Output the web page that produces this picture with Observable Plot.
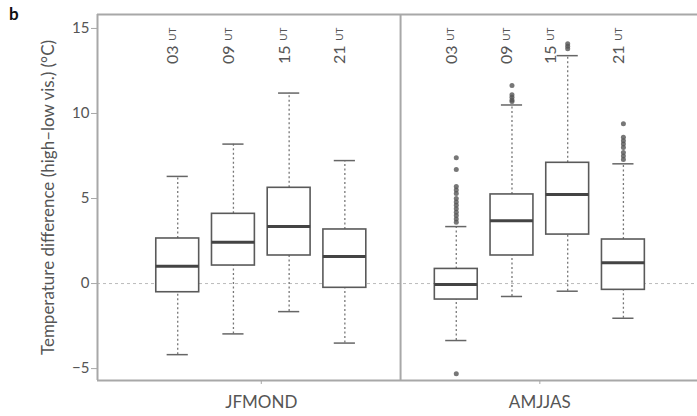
<!DOCTYPE html>
<html>
<head>
<meta charset="utf-8">
<script src="https://cdn.jsdelivr.net/npm/d3@7"></script>
<script src="https://cdn.jsdelivr.net/npm/@observablehq/plot@0.6"></script>
<style>
  body { margin: 0; background: #fff; }
  #wrap { position: relative; width: 697px; height: 416px; font-family: Lato, "Open Sans", sans-serif; }
  #panel { position: absolute; left: 9px; top: 3px; font-weight: bold; font-size: 17px; color: #111; }
</style>
</head>
<body>
<div id="wrap"><div id="panel">b</div></div>
<script>
const seasons = ["JFMOND", "AMJJAS"];
const hours = ["03", "09", "15", "21"];
// one entry per box: JFMOND 03,09,15,21 then AMJJAS 03,09,15,21
const whiskerLow = [-4.18, -2.96, -1.65, -3.5, -3.35, -0.76, -0.45, -2.04];
const q1 = [-0.51, 1.06, 1.65, -0.25, -0.94, 1.65, 2.88, -0.37];
const median = [1.02, 2.43, 3.35, 1.59, -0.06, 3.7, 5.24, 1.22];
const q3 = [2.65, 4.1, 5.63, 3.18, 0.86, 5.24, 7.1, 2.59];
const whiskerHigh = [6.3, 8.2, 11.2, 7.23, 3.35, 10.5, 13.4, 7.04];
const outlierBox = [4,4,4,4,4,4,4,4,4,4,4,4,4,4, 5,5,5,5,5, 6,6,6, 7,7,7,7,7,7,7,7];
const outlierValue = [7.4, 6.7, 5.7, 5.5, 5.3, 5.0, 4.8, 4.6, 4.4, 4.2, 4.0, 3.8, 3.6, -5.3,
  11.65, 11.1, 10.95, 10.8, 10.7,
  14.1, 13.95, 13.8,
  9.4, 8.6, 8.4, 8.2, 8.0, 7.7, 7.5, 7.3];
const yTicks = [-5, 0, 5, 10, 15];
const yTitle = "Temperature difference (high–low vis.) (°C)";

const boxes = [];
seasons.forEach((s, si) => hours.forEach((h, hi) => {
  const i = si * 4 + hi;
  boxes.push({season: s, hour: h, pos: si * 5 + hi + 1,
    lo: whiskerLow[i], q1: q1[i], med: median[i], q3: q3[i], hi: whiskerHigh[i]});
}));
const outliers = outlierBox.map((b, i) => ({pos: boxes[b].pos, v: outlierValue[i]}));
const seasonCenters = seasons.map((s, si) => ({season: s, pos: si * 5 + 2.5}));
const dividers = [5];
// the label above the crowded AMJJAS 15 UT box is nudged further left
const shifted = d => d.season === "AMJJAS" && d.hour === "15";
const normalLabels = boxes.filter(d => !shifted(d));
const shiftedLabels = boxes.filter(shifted);

const xDom = [-0.44, 10.33];
const yDom = [-5.7, 15.82];
const hw = 0.385, cw = 0.19;
const frameC = "#a8a8a8", boxC = "#5a5a5a", textC = "#555";

function hourLabels(data, dx) {
  return [
    Plot.text(data, {x: "pos", text: "hour", frameAnchor: "top", rotate: -90, textAnchor: "end", dy: 31, dx, fontSize: 16, fill: textC}),
    Plot.text(data, {x: "pos", text: d => "UT", frameAnchor: "top", rotate: -90, textAnchor: "end", dy: 13, dx: dx + 2, fontSize: 10, fill: textC})
  ];
}

const chart = Plot.plot({
  width: 697, height: 416,
  marginLeft: 97, marginRight: 0, marginTop: 14, marginBottom: 36,
  style: {fontFamily: "Lato, 'Open Sans', sans-serif", color: textC, background: "#fff"},
  x: {domain: xDom},
  y: {domain: yDom},
  marks: [
    Plot.ruleY([0], {stroke: "#bbb", strokeDasharray: "3,3", strokeWidth: 1}),
    // whiskers
    Plot.ruleX(boxes, {x: "pos", y1: "q3", y2: "hi", stroke: "#777", strokeDasharray: "2,2.5", strokeWidth: 1.3}),
    Plot.ruleX(boxes, {x: "pos", y1: "lo", y2: "q1", stroke: "#777", strokeDasharray: "2,2.5", strokeWidth: 1.3}),
    Plot.ruleY(boxes, {y: "hi", x1: d => d.pos - cw, x2: d => d.pos + cw, stroke: "#666", strokeWidth: 1.5}),
    Plot.ruleY(boxes, {y: "lo", x1: d => d.pos - cw, x2: d => d.pos + cw, stroke: "#666", strokeWidth: 1.5}),
    // boxes
    Plot.rect(boxes, {x1: d => d.pos - hw, x2: d => d.pos + hw, y1: "q1", y2: "q3", fill: "white", stroke: boxC, strokeWidth: 1.6}),
    Plot.ruleY(boxes, {y: "med", x1: d => d.pos - hw, x2: d => d.pos + hw, stroke: "#444", strokeWidth: 3}),
    Plot.dot(outliers, {x: "pos", y: "v", r: 2.5, fill: "#555", fillOpacity: 0.8, stroke: "none"}),
    // hour labels
    ...hourLabels(normalLabels, -11),
    ...hourLabels(shiftedLabels, -23),
    // frame
    Plot.ruleX([xDom[0]], {stroke: frameC, strokeWidth: 2}),
    Plot.ruleX(dividers, {stroke: frameC, strokeWidth: 2}),
    Plot.ruleY([yDom[1]], {stroke: frameC, strokeWidth: 2}),
    Plot.ruleY([yDom[0]], {stroke: frameC, strokeWidth: 2}),
    Plot.axisY({ticks: yTicks, tickSize: 6, tickPadding: 2, fontSize: 15, stroke: frameC, label: null,
      tickFormat: d => d < 0 ? "−" + Math.abs(d) : String(d)}),
    Plot.text([yTitle], {text: d => d, frameAnchor: "left", textAnchor: "middle", rotate: -90, dx: -49, fontSize: 17, fill: textC}),
    Plot.axisX({ticks: seasonCenters.map(d => d.pos), tickSize: 4, tickPadding: 11, fontSize: 17, stroke: frameC,
      tickFormat: (d) => seasonCenters.find(s => s.pos === d).season, label: null})
  ]
});
document.getElementById("wrap").appendChild(chart);
</script>
</body>
</html>
